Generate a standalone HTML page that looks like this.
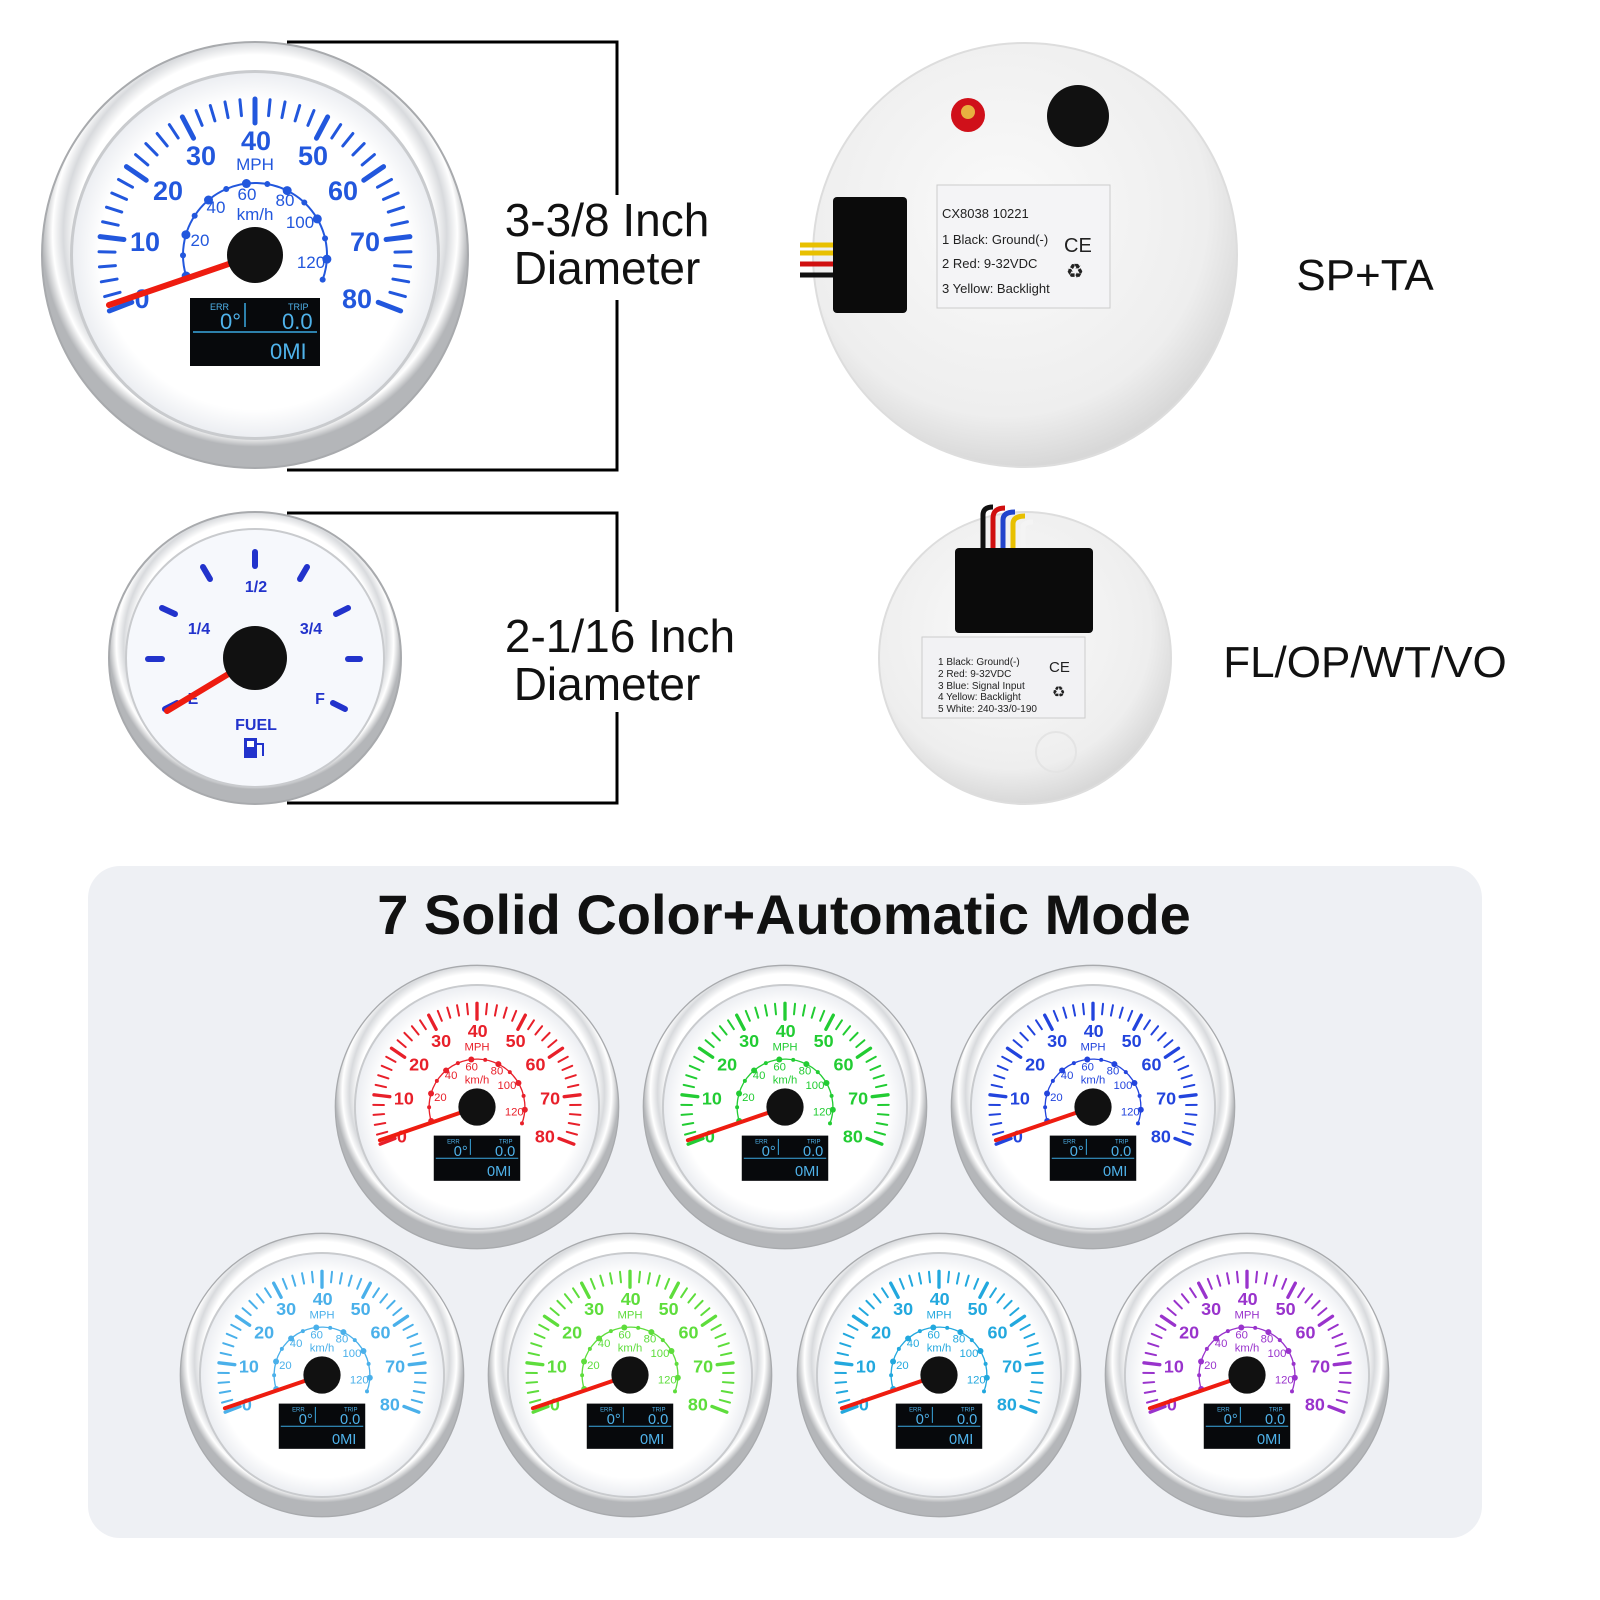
<!DOCTYPE html>
<html><head><meta charset="utf-8"><style>
html,body{margin:0;padding:0;background:#fff;overflow:hidden;width:1600px;height:1600px}
svg{display:block}
.num{font-family:"Liberation Sans",sans-serif;font-weight:bold}
</style></head><body>
<svg width="1600" height="1600" viewBox="0 0 1600 1600" xmlns="http://www.w3.org/2000/svg">
<defs>
<radialGradient id="bez" cx="50%" cy="45%" r="50%">
<stop offset="0.84" stop-color="#ffffff"/><stop offset="0.9" stop-color="#d8dadd"/><stop offset="0.95" stop-color="#ffffff"/><stop offset="1" stop-color="#b4b6b9"/>
</radialGradient>
<radialGradient id="face" cx="50%" cy="50%" r="50%">
<stop offset="0.85" stop-color="#ffffff"/><stop offset="1" stop-color="#eceef2"/>
</radialGradient>
<radialGradient id="back" cx="45%" cy="40%" r="60%">
<stop offset="0" stop-color="#fafafa"/><stop offset="0.8" stop-color="#eeeeee"/><stop offset="1" stop-color="#d8d8d8"/>
</radialGradient>
<symbol id="sp" viewBox="-215 -215 430 430" overflow="visible">
<circle r="213" fill="url(#bez)" stroke="#a8aaad" stroke-width="2"/>
<circle r="185" fill="#c9cbce"/>
<circle r="182" fill="url(#face)"/>
<g id="ticks" stroke="currentColor" stroke-linecap="round"></g>
<path id="inarc" d="" fill="none" stroke="currentColor" stroke-width="2"/>
<g id="indots" fill="currentColor"></g>
<g class="num" fill="currentColor" text-anchor="middle" font-size="27">
<text x="-113" y="53">0</text><text x="-110" y="-4">10</text><text x="-87" y="-55">20</text>
<text x="-54" y="-90">30</text><text x="1" y="-105">40</text><text x="58" y="-90">50</text>
<text x="88" y="-55">60</text><text x="110" y="-4">70</text><text x="102" y="53">80</text>
</g>
<g font-family="Liberation Sans,sans-serif" fill="currentColor" text-anchor="middle" font-size="17">
<text x="0" y="-85">MPH</text><text x="0" y="-35">km/h</text>
<text x="-8" y="-55">60</text><text x="-39" y="-42">40</text><text x="30" y="-49">80</text>
<text x="45" y="-27">100</text><text x="-55" y="-9">20</text><text x="56" y="13">120</text>
</g>
<rect x="-65" y="43" width="130" height="68" fill="#07090c"/>
<line x1="-62" y1="77" x2="62" y2="77" stroke="#3aa8e0" stroke-width="1.5"/>
<line x1="-10" y1="48" x2="-10" y2="72" stroke="#3aa8e0" stroke-width="1.5"/>
<g font-family="Liberation Sans,sans-serif" fill="#4fb2ea">
<text x="-45" y="55" font-size="9">ERR</text><text x="33" y="55" font-size="9">TRIP</text>
<text x="-35" y="74" font-size="22">0°</text><text x="27" y="74" font-size="22">0.0</text>
<text x="15" y="104" font-size="22">0MI</text>
</g>
<line x1="0" y1="0" x2="-146" y2="50" stroke="#ee1c10" stroke-width="6" stroke-linecap="round"/>
<circle r="28" fill="#111"/>
</symbol>
</defs>

<use href="#sp" x="40" y="40" width="430" height="430" style="color:#2257dd"/>

<path d="M287 42 H617 V195 M617 300 V470 H287" fill="none" stroke="#000" stroke-width="3"/>
<g font-family="Liberation Sans,sans-serif" font-size="46" text-anchor="middle" fill="#111">
<text x="607" y="236">3-3/8 Inch</text><text x="607" y="284">Diameter</text>
<text x="620" y="652">2-1/16 Inch</text><text x="607" y="700">Diameter</text>
<text x="1365" y="290" font-size="44">SP+TA</text>
<text x="1365" y="677" font-size="44">FL/OP/WT/VO</text>
</g>

<circle cx="1025" cy="255" r="212" fill="url(#back)" stroke="#ddd" stroke-width="2"/>
<circle cx="968" cy="115" r="17" fill="#d0101a"/><circle cx="968" cy="112" r="7" fill="#e8b040"/>
<circle cx="1078" cy="116" r="31" fill="#111"/>
<rect x="937" y="185" width="173" height="123" fill="#f4f4f6" stroke="#ccc"/>
<g font-family="Liberation Sans,sans-serif" font-size="13" fill="#222">
<text x="942" y="218">CX8038     10221</text>
<text x="942" y="244">1 Black: Ground(-)</text>
<text x="942" y="268">2 Red: 9-32VDC</text>
<text x="942" y="293">3 Yellow: Backlight</text>
<text x="1064" y="252" font-size="20">CE</text>
<text x="1066" y="278" font-size="20">♻</text>
</g>
<path d="M800 245 H840" stroke="#e8c000" stroke-width="5"/>
<path d="M800 253 H840" stroke="#e8c000" stroke-width="5"/>
<path d="M800 264 H840" stroke="#d01010" stroke-width="5"/>
<path d="M800 275 H840" stroke="#111" stroke-width="5"/>
<rect x="833" y="197" width="74" height="116" rx="4" fill="#0b0b0b"/>

<circle cx="255" cy="658" r="146" fill="url(#bez)" stroke="#a8aaad" stroke-width="2"/>
<circle cx="255" cy="658" r="130" fill="#c9cbce"/>
<circle cx="255" cy="658" r="128" fill="#f6f8fc"/>
<g stroke="#2233cc" stroke-width="6" stroke-linecap="round">
<line x1="148" y1="659" x2="162" y2="659"/><line x1="348" y1="659" x2="360" y2="659"/>
<line x1="162" y1="608" x2="175" y2="614"/><line x1="348" y1="608" x2="336" y2="614"/>
<line x1="203" y1="567" x2="210" y2="579"/><line x1="307" y1="567" x2="300" y2="579"/>
<line x1="255" y1="552" x2="255" y2="566"/>
<line x1="165" y1="709" x2="177" y2="703"/><line x1="345" y1="709" x2="333" y2="703"/>
</g>
<g class="num" fill="#2233cc" text-anchor="middle" font-size="16">
<text x="256" y="592">1/2</text><text x="199" y="634">1/4</text><text x="311" y="634">3/4</text>
<text x="193" y="704">E</text><text x="320" y="704">F</text>
<text x="256" y="730">FUEL</text>
</g>
<rect x="244" y="738" width="13" height="20" fill="#2233cc"/><rect x="247" y="741" width="7" height="6" fill="#fff"/>
<path d="M257 744 h6 v12" stroke="#2233cc" stroke-width="2" fill="none"/>
<line x1="255" y1="658" x2="167" y2="711" stroke="#ee1c10" stroke-width="6" stroke-linecap="round"/>
<circle cx="255" cy="658" r="32" fill="#111"/>
<path d="M287 513 H617 V612 M617 712 V803 H287" fill="none" stroke="#000" stroke-width="3"/>

<circle cx="1025" cy="658" r="146" fill="url(#back)" stroke="#ddd" stroke-width="2"/>
<path d="M983 548 V515 q0 -8 10 -8 h0" stroke="#111" stroke-width="5" fill="none"/>
<path d="M993 548 V518 q0 -10 12 -10" stroke="#d01010" stroke-width="5" fill="none"/>
<path d="M1003 548 V520 q0 -8 12 -8" stroke="#2244cc" stroke-width="5" fill="none"/>
<path d="M1013 548 V524 q0 -8 12 -8" stroke="#e8c000" stroke-width="5" fill="none"/>
<path d="M1023 548 V528 q0 -6 10 -6" stroke="#f4f4f4" stroke-width="5" fill="none"/>
<rect x="955" y="548" width="138" height="85" rx="4" fill="#0b0b0b"/>
<rect x="922" y="637" width="163" height="81" fill="#f2f2f4" stroke="#ccc"/>
<g font-family="Liberation Sans,sans-serif" font-size="10" fill="#222">
<text x="938" y="665">1 Black: Ground(-)</text><text x="938" y="677">2 Red: 9-32VDC</text>
<text x="938" y="689">3 Blue: Signal Input</text><text x="938" y="700">4 Yellow: Backlight</text>
<text x="938" y="712">5 White: 240-33/0-190</text>
<text x="1049" y="672" font-size="15">CE</text><text x="1052" y="697" font-size="15">♻</text>
</g>
<circle cx="1056" cy="752" r="20" fill="none" stroke="#e4e4e4" stroke-width="2"/>

<rect x="88" y="866" width="1394" height="672" rx="32" fill="#eef0f4"/>
<text x="784" y="934" text-anchor="middle" font-family="Liberation Sans,sans-serif" font-weight="bold" font-size="56" fill="#111">7 Solid Color+Automatic Mode</text>
<use href="#sp" x="334" y="964" width="286" height="286" style="color:#e8202a"/>
<use href="#sp" x="642" y="964" width="286" height="286" style="color:#22cc33"/>
<use href="#sp" x="950" y="964" width="286" height="286" style="color:#2244dd"/>
<use href="#sp" x="179" y="1232" width="286" height="286" style="color:#4ab0ea"/>
<use href="#sp" x="487" y="1232" width="286" height="286" style="color:#5edd3c"/>
<use href="#sp" x="796" y="1232" width="286" height="286" style="color:#22a8de"/>
<use href="#sp" x="1104" y="1232" width="286" height="286" style="color:#9933cc"/>
</svg>
<script>
(function(){
var NS="http://www.w3.org/2000/svg";
var g=document.getElementById("ticks");
for(var i=0;i<=40;i++){
 var a=(-111+i*222/40)*Math.PI/180;
 var maj=i%5==0;
 var r1=maj?132:140,r2=156;
 var l=document.createElementNS(NS,"line");
 l.setAttribute("x1",r1*Math.sin(a));l.setAttribute("y1",-r1*Math.cos(a));
 l.setAttribute("x2",r2*Math.sin(a));l.setAttribute("y2",-r2*Math.cos(a));
 l.setAttribute("stroke-width",maj?5:3);
 g.appendChild(l);
}
var r=72,a0=-107,a1=110;
function p(t){var a=t*Math.PI/180;return [r*Math.sin(a),-r*Math.cos(a)];}
var s=p(a0),e=p(a1);
document.getElementById("inarc").setAttribute("d","M"+s[0]+" "+s[1]+" A72 72 0 1 1 "+e[0]+" "+e[1]);
var d=document.getElementById("indots");
for(var k=0;k<=13;k++){var q=p(a0+k*(a1-a0)/13);var c=document.createElementNS(NS,"circle");
c.setAttribute("cx",q[0]);c.setAttribute("cy",q[1]);c.setAttribute("r",k%2==0?4.5:3);d.appendChild(c);}
})();
</script>
</body></html>
